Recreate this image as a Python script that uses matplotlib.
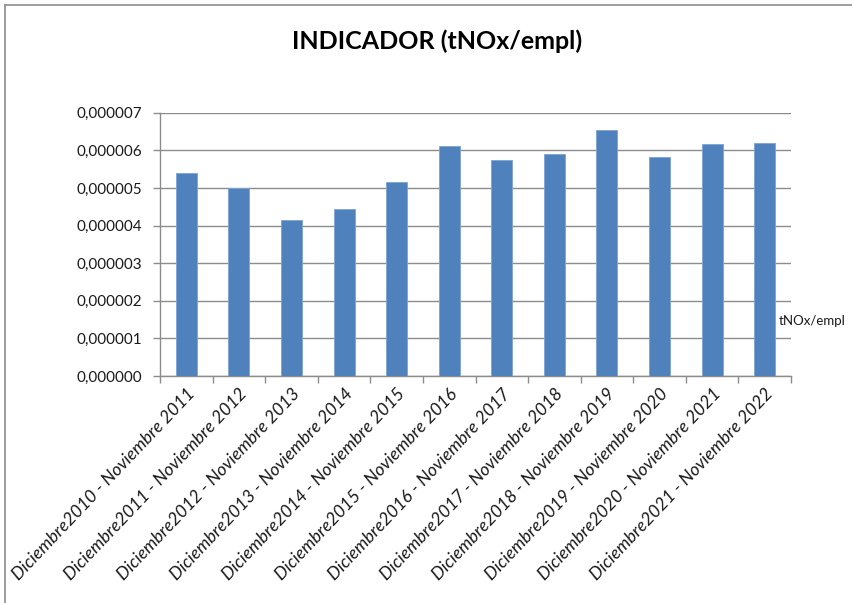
import matplotlib
matplotlib.use('Agg')
import matplotlib.pyplot as plt
from matplotlib.ticker import FuncFormatter, MultipleLocator
from matplotlib.lines import Line2D

# categorías (periodos) y valores del indicador
periodos = ['Diciembre2010 - Noviembre 2011', 'Diciembre2011 - Noviembre 2012',
            'Diciembre2012 - Noviembre 2013', 'Diciembre2013 - Noviembre 2014',
            'Diciembre2014 - Noviembre 2015', 'Diciembre2015 - Noviembre 2016',
            'Diciembre2016 - Noviembre 2017', 'Diciembre2017 - Noviembre 2018',
            'Diciembre2018 - Noviembre 2019', 'Diciembre2019 - Noviembre 2020',
            'Diciembre2020 - Noviembre 2021', 'Diciembre2021 - Noviembre 2022']
tnox_empl = [5.41e-6, 4.99e-6, 4.15e-6, 4.44e-6, 5.16e-6, 6.11e-6,
             5.74e-6, 5.90e-6, 6.54e-6, 5.83e-6, 6.16e-6, 6.20e-6]
serie = 'tNOx/empl'
titulo = 'INDICADOR (tNOx/empl)'

plt.rcParams['font.family'] = ['Lato', 'DejaVu Sans']

fig = plt.figure(figsize=(8.53, 6.03), dpi=100)
ax = fig.add_axes([0.1876, 0.3765, 0.7397, 0.4365])

x = range(len(periodos))
ax.bar(x, tnox_empl, width=0.4, color='#4F81BD', edgecolor='#7EA3D3', linewidth=0.6, zorder=3)

ax.set_xlim(-0.5, len(periodos) - 0.5)
ax.set_ylim(0, 7e-6)
ax.yaxis.set_major_locator(MultipleLocator(1e-6))
ax.yaxis.set_major_formatter(FuncFormatter(lambda v, p: f'{v:.6f}'.replace('.', ',')))
ax.grid(axis='y', color='#8C8C8C', linewidth=1.0, zorder=0)

ax.set_xticks(list(x))
ax.set_xticklabels(periodos, rotation=46.5, ha='right', va='top', rotation_mode='anchor',
                   fontstyle='italic', fontsize=12.8, color='#1a1a1a')
ax.set_xticks([i - 0.5 for i in range(len(periodos) + 1)], minor=True)
ax.tick_params(axis='x', which='major', length=0, pad=7)
ax.tick_params(axis='x', which='minor', length=5, color='#8C8C8C', width=1)
ax.tick_params(axis='y', length=5, color='#8C8C8C', width=1, labelsize=11, pad=8, labelcolor='#1a1a1a')

for s in ['top', 'right']:
    ax.spines[s].set_visible(False)
for s in ['left', 'bottom']:
    ax.spines[s].set_color('#8C8C8C')
    ax.spines[s].set_linewidth(1)

fig.text(0.512, 0.932, titulo, ha='center', va='center', fontsize=18, fontweight='bold')
fig.text(0.913, 0.468, serie, ha='left', va='center', fontsize=9.5, color='#1a1a1a')

# marco del gráfico
fig.add_artist(Line2D([5 / 853, 5 / 853], [0, 598 / 603], color='#8C8C8C', linewidth=1.2))
fig.add_artist(Line2D([5 / 853, 1], [598 / 603, 598 / 603], color='#8C8C8C', linewidth=1.2))

fig.savefig('out.png', dpi=100, facecolor='white')
